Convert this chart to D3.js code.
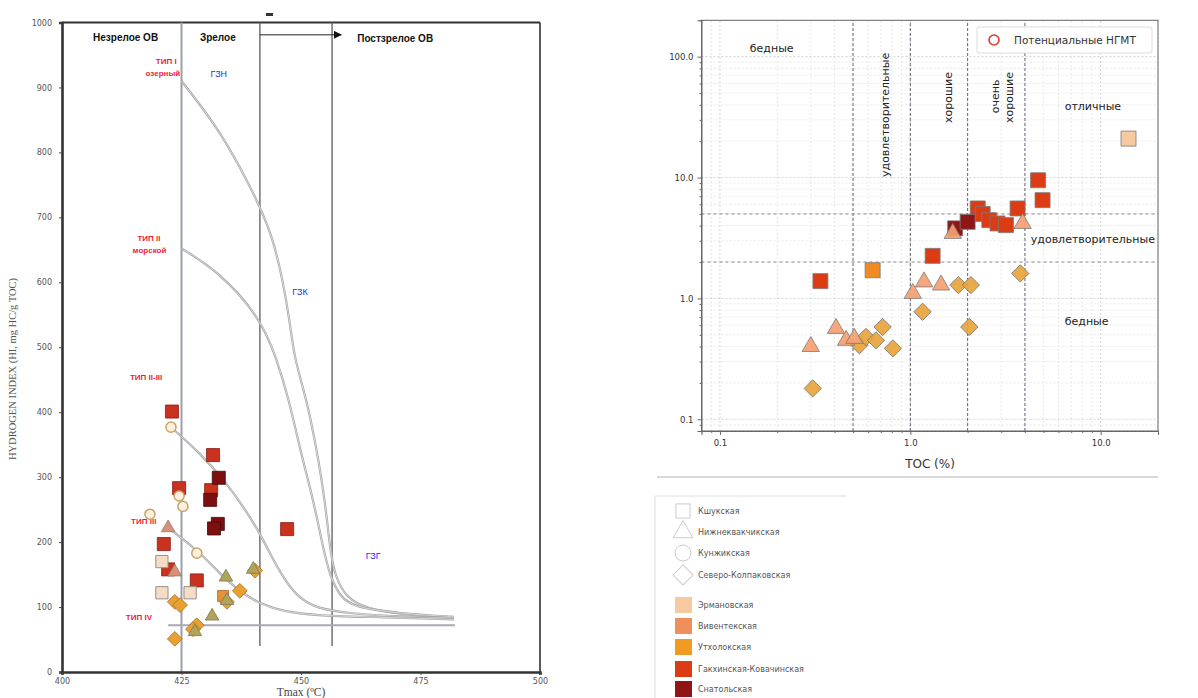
<!DOCTYPE html>
<html><head><meta charset="utf-8">
<script src="https://cdn.jsdelivr.net/npm/d3@7"></script>
<style>body{margin:0;background:#fff}svg{display:block}</style>
</head><body>
<script>
// ---------- DATA: left chart (Tmax °C, HI mg HC/g TOC) ----------
const leftXTicks = [400, 425, 450, 475, 500];
const leftYTicks = [0,100,200,300,400,500,600,700,800,900,1000];
const leftSquaresRed   = [[423.0,401],[431.6,334],[431.2,280],[447.1,220],[424.5,283],[421.3,197],[422.2,158],[428.2,141]];
const leftSquaresDark  = [[432.8,299],[431.0,265],[432.6,228],[431.8,221]];
const leftSquaresLight = [[420.9,170],[420.9,122],[426.8,122]];
const leftSquaresOrange= [[433.7,117]];
const leftCircles      = [[422.8,377],[424.5,271],[425.3,255],[418.4,243],[428.2,183]];
const leftTrianglesSalmon = [[422.2,222],[423.6,154]];
const leftTrianglesOlive  = [[434.3,146],[440.0,158],[431.4,86],[427.8,62],[434.5,110]];
const leftDiamonds     = [[423.6,108],[424.7,103],[428.2,72],[427.4,66],[423.6,51],[437.2,125],[434.5,108],[440.4,156]];
// kerogen type evolution curves
const curveTypeI   = [[425,910],[425,910],[432.4,840],[437.2,778],[441.4,717],[444.2,666],[446.3,599],[447.7,537],[448.6,483],[451.2,419],[453.3,342],[455,265],[456.1,188],[457.1,147],[459.6,113],[463.7,98],[470.7,89],[482,83],[482,83]];
const curveTypeII  = [[425,652],[425,652],[432.4,619],[441.4,547],[444.9,483],[447.5,419],[449.8,342],[452.6,265],[454.7,188],[456.1,147],[458.2,116],[460.9,100],[470.7,90],[482,85],[482,85]];
const curveTypeII_III = [[422.8,377],[422.8,377],[428.9,337],[434.5,290],[437.9,255],[441.4,214],[444.2,172],[447,137],[449.8,113],[453.3,98],[460.3,90],[470.7,85],[482,83],[482,83]];
const curveTypeIII = [[422.2,222],[422.2,222],[428.2,188],[431.7,162],[434.5,141],[437.9,121],[441.4,105],[446.3,93],[453.3,87],[463,85],[482,81],[482,81]];
const lineTypeIV   = [[422.2,72],[482.2,72]];
const zoneBounds   = [425, 441.4, 456.5];
const leftZoneLabels = [{t:413.3,hi:978,txt:"Незрелое ОВ"},{t:432.6,hi:978,txt:"Зрелое"},{t:469.7,hi:976,txt:"Постзрелое ОВ"}];
const leftTypeLabels = [{t:421.8,hi:941,txt:"ТИП I"},{t:421.1,hi:922,txt:"озерный"},{t:418.2,hi:668,txt:"ТИП II"},{t:418.3,hi:650,txt:"морской"},{t:417.6,hi:454,txt:"ТИП II-III"},{t:417.1,hi:232,txt:"ТИП III"},{t:416.1,hi:85,txt:"ТИП IV"}];
const leftZoneNames  = [{t:432.8,hi:920,txt:"ГЗН"},{t:449.8,hi:585,txt:"ГЗК"},{t:465.1,hi:178,txt:"ГЗГ"}];

// ---------- DATA: right chart (TOC %, S2 mg/g) ----------
const rightXTicks = [0.1, 1, 10];
const rightYTicks = [0.1, 1, 10, 100];
const rSquaresGakhKov = [[0.337,1.39],[1.31,2.25],[2.26,5.55],[2.4,5.0],[2.6,4.44],[2.87,4.17],[3.18,4.04],[3.66,5.55],[4.69,9.5],[4.95,6.5]];
const rSquaresSnat    = [[1.72,3.8],[2.0,4.3]];
const rSquaresUtkh    = [[0.634,1.71]];
const rSquaresErm     = [[14.0,21]];
const rTriangles      = [[0.30,0.40],[0.407,0.565],[0.46,0.45],[0.508,0.467],[1.03,1.1],[1.18,1.37],[1.45,1.29],[1.67,3.45],[3.89,4.17]];
const rDiamonds       = [[0.307,0.18],[0.54,0.41],[0.585,0.48],[0.66,0.45],[0.715,0.58],[0.81,0.386],[1.16,0.775],[1.79,1.29],[2.08,1.29],[2.04,0.58],[3.78,1.61]];
const tocBounds = [0.5, 1, 2, 4];
const s2Bounds  = [2, 5];
const rightLabels = [{x:0.187,y:118,txt:"бедные"},{x:9.1,y:39,txt:"отличные"},{x:9.1,y:3.1,txt:"удовлетворительные"},{x:8.44,y:0.65,txt:"бедные"}];
const rightVLabels = [{x:0.773,y:33,txt:"удовлетворительные"},{x:1.655,y:46,txt:"хорошие"},{x:2.92,y:47,txt:"очень"},{x:3.46,y:46,txt:"хорошие"}];
const legendShapes = ["Кшукская","Нижнеквакчикская","Кунжикская","Северо-Колпаковская"];
const legendFormations = ["Эрмановская","Вивентекская","Утхолокская","Гакхинская-Ковачинская","Снатольская"];
const formationColors = ["#f6c9a0","#f08e5e","#f39a22","#dc3c14","#8e1616"];

// ---------- DRAW ----------
const W=1198,H=698;
const svg=d3.select("body").append("svg").attr("width",W).attr("height",H);

// ===== LEFT =====
const xL=d3.scaleLinear([400,500],[62,540]);
const yL=d3.scaleLinear([0,1000],[672,22.5]);
const gL=svg.append("g");
gL.append("line").attr("x1",xL(400)).attr("x2",xL(500)).attr("y1",yL(1000)).attr("y2",yL(1000)).attr("stroke","#333").attr("stroke-width",2);
gL.append("line").attr("x1",xL(500)).attr("x2",xL(500)).attr("y1",yL(1000)).attr("y2",yL(0)).attr("stroke","#333").attr("stroke-width",1.6);
zoneBounds.forEach((t,i)=>{
  gL.append("line").attr("x1",xL(t)).attr("x2",xL(t)).attr("y1",yL(1000)).attr("y2",i===0?yL(0):yL(40))
    .attr("stroke",i===0?"#9aa0aa":"#666").attr("stroke-width",i===0?2:1.4);
});
svg.append("defs").append("marker").attr("id","ah").attr("viewBox","0 0 10 10").attr("refX",9).attr("refY",5)
  .attr("markerWidth",8).attr("markerHeight",8).attr("orient","auto").append("path").attr("d","M0,0L10,5L0,10z").attr("fill","#111");
gL.append("line").attr("x1",xL(441.4)).attr("x2",xL(458.4)).attr("y1",yL(981)).attr("y2",yL(981)).attr("stroke","#222").attr("stroke-width",1).attr("marker-end","url(#ah)");
gL.append("rect").attr("x",266).attr("y",13).attr("width",7).attr("height",3).attr("fill","#333");
const lineL2=d3.line().x(d=>xL(d[0])).y(d=>yL(d[1])).curve(d3.curveBasis);
[curveTypeI,curveTypeII,curveTypeII_III,curveTypeIII].forEach(c=>{
  gL.append("path").attr("d",lineL2(c)).attr("fill","none").attr("stroke","#a4a4a4").attr("stroke-width",2.2);
  gL.append("path").attr("d",lineL2(c)).attr("fill","none").attr("stroke","#eeeeee").attr("stroke-width",0.7);
});
gL.append("path").attr("d",d3.line().x(d=>xL(d[0])).y(d=>yL(d[1]))(lineTypeIV)).attr("stroke","#a8aab4").attr("stroke-width",2).attr("fill","none");
const axL=gL.append("g").attr("transform",`translate(${xL(400)},0)`).call(d3.axisLeft(yL).tickValues(leftYTicks).tickFormat(d3.format("d")).tickSize(3).tickPadding(7));
const axB=gL.append("g").attr("transform",`translate(0,${yL(0)})`).call(d3.axisBottom(xL).tickValues(leftXTicks).tickFormat(d3.format("d")).tickSize(3).tickPadding(3));
[axL,axB].forEach(a=>{a.select(".domain").attr("stroke","#333").attr("stroke-width",2.6);
  a.selectAll("text").attr("font-family","DejaVu Sans").attr("font-size",8).attr("fill","#555");
  a.selectAll(".tick line").attr("stroke","#444");});
gL.append("text").attr("transform","translate(16,369) rotate(-90)").attr("text-anchor","middle")
  .attr("font-family","Liberation Serif").attr("font-size",10.5).attr("fill","#555").text("HYDROGEN INDEX (HI, mg HC/g TOC)");
gL.append("text").attr("x",xL(450)).attr("y",695.5).attr("text-anchor","middle").attr("font-family","Liberation Serif").attr("font-size",11.5).attr("fill","#444").text("Tmax (ºC)");
leftZoneLabels.forEach(d=>gL.append("text").attr("x",xL(d.t)).attr("y",yL(d.hi)+4).attr("text-anchor","middle")
  .attr("font-family","Liberation Sans").attr("font-weight","bold").attr("font-size",10).attr("fill","#111").text(d.txt));
leftTypeLabels.forEach(d=>gL.append("text").attr("x",xL(d.t)).attr("y",yL(d.hi)+3).attr("text-anchor","middle")
  .attr("font-family","Liberation Sans").attr("font-weight","bold").attr("font-size",8).attr("fill","#ee1c3c").text(d.txt));
leftZoneNames.forEach(d=>gL.append("text").attr("x",xL(d.t)).attr("y",yL(d.hi)+3).attr("text-anchor","middle")
  .attr("font-family","Liberation Sans").attr("font-size",9).attr("fill","#2a2af0").text(d.txt));
function pts(g,data,xs,ys,shape,size,fill,stroke,sw,rot,op){
  g.selectAll(null).data(data).enter().append("path")
   .attr("d",d3.symbol().type(shape).size(size))
   .attr("transform",d=>`translate(${xs(d[0])},${ys(d[1])})${rot?" rotate(45)":""}`)
   .attr("fill",fill).attr("stroke",stroke).attr("stroke-width",sw).attr("fill-opacity",op||1);
}
pts(gL,leftSquaresRed,xL,yL,d3.symbolSquare,170,"#c8321e","#8a1a10",0.8);
pts(gL,leftSquaresDark,xL,yL,d3.symbolSquare,170,"#7c1010","#4a0808",0.8);
pts(gL,leftSquaresLight,xL,yL,d3.symbolSquare,150,"#f4dcc6","#9a9088",1);
pts(gL,leftSquaresOrange,xL,yL,d3.symbolSquare,120,"#e8903a","#b0602a",0.8);
pts(gL,leftDiamonds,xL,yL,d3.symbolSquare,110,"#e8a030","#a8782e",0.8,true);
pts(gL,leftTrianglesSalmon,xL,yL,d3.symbolTriangle,80,"#d8907a","#8a8070",0.8);
pts(gL,leftTrianglesOlive,xL,yL,d3.symbolTriangle,80,"#b0a458","#7e7a58",0.8);
pts(gL,leftCircles,xL,yL,d3.symbolCircle,80,"#fdf0dc","#c8a46a",1.5);

// ===== RIGHT =====
const xR=d3.scaleLog([0.08,20],[701.5,1158]);
const yR=d3.scaleLog([0.08,200],[431,20.3]);
const gR=svg.append("g");
const minorX=[],minorY=[];
[0.01,0.1,1,10,100].forEach(b=>{for(let k=1;k<10;k++){const v=+(b*k).toPrecision(6);if(v>=0.08&&v<=20)minorX.push(v);if(v>=0.08&&v<=200)minorY.push(v);}});
minorX.forEach(v=>gR.append("line").attr("x1",xR(v)).attr("x2",xR(v)).attr("y1",yR(0.08)).attr("y2",yR(200))
  .attr("stroke",rightXTicks.includes(v)?"#c8c8c8":"#e2e2e2").attr("stroke-width",0.8).attr("stroke-dasharray","2,2"));
minorY.forEach(v=>gR.append("line").attr("x1",xR(0.08)).attr("x2",xR(20)).attr("y1",yR(v)).attr("y2",yR(v))
  .attr("stroke",rightYTicks.includes(v)?"#c8c8c8":"#e2e2e2").attr("stroke-width",0.8).attr("stroke-dasharray","2,2"));
tocBounds.forEach(v=>gR.append("line").attr("x1",xR(v)).attr("x2",xR(v)).attr("y1",yR(0.08)).attr("y2",yR(200))
  .attr("stroke","#556").attr("stroke-width",0.9).attr("stroke-dasharray","3,2"));
s2Bounds.forEach(v=>gR.append("line").attr("x1",xR(0.08)).attr("x2",xR(20)).attr("y1",yR(v)).attr("y2",yR(v))
  .attr("stroke","#8a8a92").attr("stroke-width",1).attr("stroke-dasharray","3,3"));
gR.append("rect").attr("x",xR(0.08)).attr("y",yR(200)).attr("width",xR(20)-xR(0.08)).attr("height",yR(0.08)-yR(200))
  .attr("fill","none").attr("stroke","#666").attr("stroke-width",1);
const axRX=gR.append("g").attr("transform",`translate(0,${yR(0.08)})`).call(d3.axisBottom(xR).tickValues(rightXTicks).tickFormat(d3.format(".1f")).tickSize(4).tickPadding(5));
const axRY=gR.append("g").attr("transform",`translate(${xR(0.08)},0)`).call(d3.axisLeft(yR).tickValues(rightYTicks).tickFormat(d3.format(".1f")).tickSize(4).tickPadding(4));
gR.append("g").attr("transform",`translate(0,${yR(0.08)})`).call(d3.axisBottom(xR).tickValues(minorX.filter(v=>!rightXTicks.includes(v))).tickFormat("").tickSize(2)).select(".domain").remove();
gR.append("g").attr("transform",`translate(${xR(0.08)},0)`).call(d3.axisLeft(yR).tickValues(minorY.filter(v=>!rightYTicks.includes(v))).tickFormat("").tickSize(2)).select(".domain").remove();
gR.selectAll(".domain").attr("stroke","#666");
gR.selectAll(".tick line").attr("stroke","#666");
[axRX,axRY].forEach(a=>a.selectAll("text").attr("font-family","DejaVu Sans").attr("font-size",8.5).attr("fill","#333"));
gR.append("text").attr("x",930).attr("y",468).attr("text-anchor","middle").attr("font-family","DejaVu Sans").attr("font-size",12).attr("fill","#333").text("TOC (%)");
rightLabels.forEach(d=>gR.append("text").attr("x",xR(d.x)).attr("y",yR(d.y)+4).attr("text-anchor","middle")
  .attr("font-family","DejaVu Sans").attr("font-size",11).attr("fill","#222").text(d.txt));
rightVLabels.forEach(d=>gR.append("text").attr("transform",`translate(${xR(d.x)},${yR(d.y)}) rotate(-90)`)
  .attr("text-anchor","middle").attr("font-family","DejaVu Sans").attr("font-size",11).attr("fill","#222").text(d.txt));
const lg=gR.append("g");
lg.append("rect").attr("x",977).attr("y",27).attr("width",175).attr("height",26).attr("rx",2).attr("fill","#fff").attr("fill-opacity",0.9).attr("stroke","#ddd");
lg.append("circle").attr("cx",994).attr("cy",40).attr("r",5).attr("fill","none").attr("stroke","#e03a2a").attr("stroke-width",1.6);
lg.append("text").attr("x",1014).attr("y",44).attr("font-family","DejaVu Sans").attr("font-size",10.5).attr("fill","#333").text("Потенциальные НГМТ");
const ec="#7a7a7a";
pts(gR,rSquaresGakhKov,xR,yR,d3.symbolSquare,225,formationColors[3],ec,0.8);
pts(gR,rSquaresSnat,xR,yR,d3.symbolSquare,225,formationColors[4],ec,0.8);
pts(gR,rSquaresUtkh,xR,yR,d3.symbolSquare,225,"#f08a22",ec,0.8);
pts(gR,rSquaresErm,xR,yR,d3.symbolSquare,225,formationColors[0],ec,0.8);
pts(gR,rDiamonds,xR,yR,d3.symbolSquare,150,"#e8a43c",ec,0.8,true,0.92);
pts(gR,rTriangles,xR,yR,d3.symbolTriangle,130,"#f5a070",ec,0.8,false,0.92);
svg.append("line").attr("x1",657).attr("x2",1158).attr("y1",477).attr("y2",477).attr("stroke","#ccc").attr("stroke-width",1.5);

// ===== bottom-left legend =====
const bl=svg.append("g");
bl.append("line").attr("x1",655).attr("x2",846).attr("y1",496).attr("y2",496).attr("stroke","#ddd");
bl.append("line").attr("x1",655).attr("x2",655).attr("y1",496).attr("y2",698).attr("stroke","#ddd");
const shapeTypes=[d3.symbolSquare,d3.symbolTriangle,d3.symbolCircle,d3.symbolSquare];
const shapeY=[511,532,553,575];
legendShapes.forEach((name,i)=>{
  bl.append("path").attr("d",d3.symbol().type(shapeTypes[i]).size(i===1?170:200))
    .attr("transform",`translate(683,${shapeY[i]})${i===3?" rotate(45)":""}`).attr("fill","#fff").attr("stroke","#ccc").attr("stroke-width",1);
  bl.append("text").attr("x",698).attr("y",shapeY[i]+3).attr("font-family","DejaVu Sans").attr("font-size",8).attr("fill","#555").text(name);
});
const fY=[605,626,647,669,689];
legendFormations.forEach((name,i)=>{
  bl.append("rect").attr("x",675).attr("y",fY[i]-8).attr("width",17).attr("height",16).attr("fill",formationColors[i]);
  bl.append("text").attr("x",698).attr("y",fY[i]+3).attr("font-family","DejaVu Sans").attr("font-size",8).attr("fill","#555").text(name);
});
</script>
</body></html>
